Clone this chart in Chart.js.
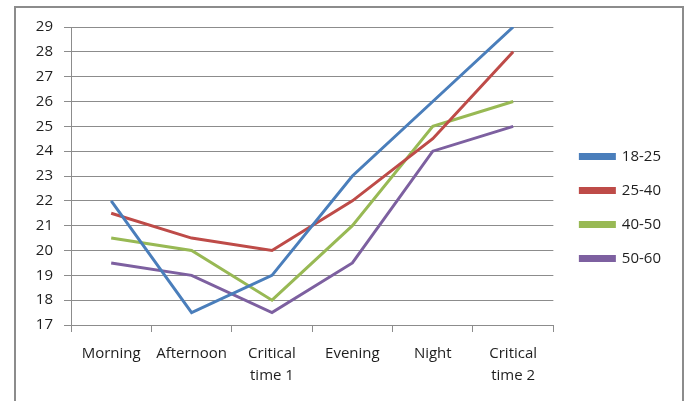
<!DOCTYPE html>
<html>
<head>
<meta charset="UTF-8">
<title>Age groups by time of day</title>
<style type="text/css">
body {
	margin: 0;
	background: #fff;
}
#frame {
	position: absolute;
	left: 14px;
	top: 6px;
	width: 666px;
	height: 400px;
	border: 2px solid #8c8c8c;
}
#wrap {
	position: absolute;
	left: 0;
	top: 0;
	width: 689px;
	height: 401px;
}
</style>
</head>
<body>
	<div id="frame"></div>
	<div id="wrap">
		<canvas id="myChart" width="689" height="401"></canvas>
	</div>
</body>
<script src="https://cdn.jsdelivr.net/npm/chart.js@4"></script>
<script type="text/javascript">
	// categories and series
	const categories = ['Morning', 'Afternoon', ['Critical', 'time 1'], 'Evening', 'Night', ['Critical', 'time 2']];
	const age18to25 = [22, 17.5, 19, 23, 26, 29];
	const age25to40 = [21.5, 20.5, 20, 22, 24.5, 28];
	const age40to50 = [20.5, 20, 18, 21, 25, 26];
	const age50to60 = [19.5, 19, 17.5, 19.5, 24, 25];
	const yTicks = [17, 18, 19, 20, 21, 22, 23, 24, 25, 26, 27, 28, 29];

	const font = { family: '"Open Sans", sans-serif', size: 15 };

	function line(label, data, color) {
		return {
			label: label,
			data: data,
			borderColor: color,
			backgroundColor: color,
			borderWidth: 3,
			pointRadius: 0,
			tension: 0,
			fill: false
		};
	}

	var ctx = document.getElementById('myChart').getContext('2d');
	var chart = new Chart(ctx, {
		type: 'line',
		data: {
			labels: categories,
			datasets: [
				line('18-25', age18to25, '#4a7ebb'),
				line('25-40', age25to40, '#be4b48'),
				line('40-50', age40to50, '#98b954'),
				line('50-60', age50to60, '#7d60a0')
			]
		},
		options: {
			responsive: false,
			animation: false,
			layout: { padding: { top: 27, right: 18, left: 0, bottom: 13 } },
			plugins: {
				tooltip: { enabled: false },
				legend: {
					position: 'right',
					labels: {
						boxWidth: 34,
						boxHeight: 4,
						padding: 19,
						color: '#1e1e1e',
						font: font
					}
				}
			},
			scales: {
				x: {
					offset: true,
					grid: {
						offset: true,
						drawOnChartArea: false,
						tickLength: 7,
						color: '#8c8c8c'
					},
					border: { color: '#8c8c8c' },
					ticks: {
						color: '#1e1e1e',
						font: Object.assign({ lineHeight: 1.47 }, font),
						padding: 11,
						maxRotation: 0,
						autoSkip: false
					},
					afterFit: function(scale) { scale.height = 63; }
				},
				y: {
					min: 17,
					max: 29,
					afterBuildTicks: function(scale) {
						scale.ticks = yTicks.map(function(v) { return { value: v }; });
					},
					grid: {
						color: '#8c8c8c',
						tickLength: 7
					},
					border: { color: '#8c8c8c' },
					ticks: {
						color: '#1e1e1e',
						font: font,
						padding: 11
					},
					afterFit: function(scale) { scale.width = 71; }
				},
				// empty axis, only keeps a gap between plot and legend
				gap: {
					axis: 'y',
					position: 'right',
					grid: { display: false },
					border: { display: false },
					ticks: { display: false },
					afterFit: function(scale) { scale.width = 8; }
				}
			}
		}
	});
</script>
</html>
